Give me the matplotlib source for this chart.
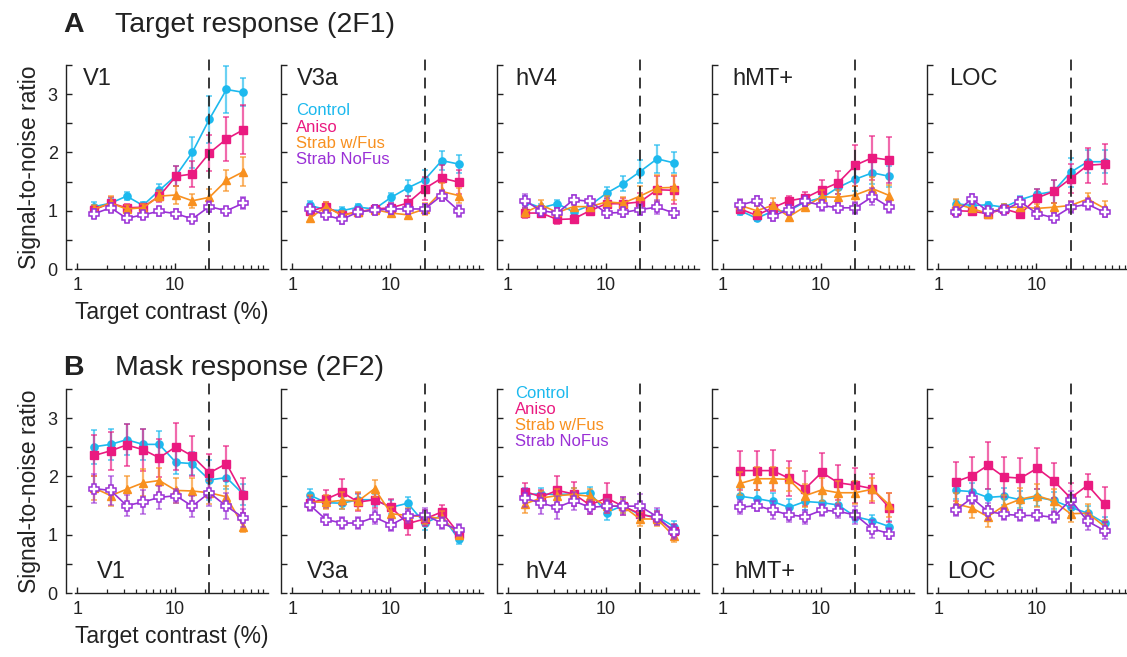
import matplotlib
matplotlib.use("Agg")
import matplotlib.pyplot as plt
from matplotlib.colors import to_rgba
from matplotlib.ticker import FixedLocator, FixedFormatter, LogLocator, NullFormatter

plt.rcParams['font.family'] = ['Liberation Sans', 'DejaVu Sans']

# target contrast levels (%) and mask contrast (dashed line)
contrast = [1.5, 2.2, 3.2, 4.7, 6.9, 10.2, 15, 22.4, 33.5, 50]
mask_contrast = 22.4

areas = ["V1", "V3a", "hV4", "hMT+", "LOC"]
groups = ["Control", "Aniso", "Strab w/Fus", "Strab NoFus"]
colors = ["#1CB9EE", "#EA1A80", "#F8901F", "#9A30D6"]

# ---- A: target response (2F1), rows = Control, Aniso, Strab w/Fus, Strab NoFus
t_mean_v1 = [[1.07, 1.13, 1.25, 1.09, 1.35, 1.60, 2.00, 2.57, 3.08, 3.03],
             [1.02, 1.13, 1.05, 1.06, 1.25, 1.59, 1.63, 1.99, 2.23, 2.39],
             [1.03, 1.13, 1.03, 1.05, 1.25, 1.27, 1.17, 1.23, 1.52, 1.67],
             [0.95, 1.05, 0.87, 0.93, 0.99, 0.95, 0.86, 1.07, 1.00, 1.13]]
t_err_v1 = [[0.08, 0.08, 0.07, 0.06, 0.10, 0.17, 0.27, 0.40, 0.40, 0.24],
            [0.06, 0.10, 0.06, 0.06, 0.10, 0.17, 0.23, 0.31, 0.37, 0.42],
            [0.06, 0.13, 0.06, 0.06, 0.08, 0.15, 0.12, 0.15, 0.18, 0.25],
            [0.08, 0.08, 0.07, 0.07, 0.08, 0.08, 0.06, 0.09, 0.07, 0.10]]

t_mean_v3a = [[1.09, 1.02, 1.00, 1.06, 1.03, 1.23, 1.39, 1.53, 1.86, 1.80],
              [0.99, 1.07, 0.93, 0.98, 1.03, 1.05, 1.13, 1.38, 1.56, 1.49],
              [0.87, 1.07, 0.92, 0.98, 1.02, 0.96, 0.93, 1.03, 1.33, 1.26],
              [1.03, 0.92, 0.85, 0.98, 1.01, 1.03, 1.03, 1.03, 1.26, 1.00]]
t_err_v3a = [[0.07, 0.07, 0.06, 0.06, 0.06, 0.08, 0.14, 0.17, 0.17, 0.15],
             [0.07, 0.08, 0.07, 0.07, 0.07, 0.08, 0.13, 0.20, 0.22, 0.20],
             [0.07, 0.08, 0.07, 0.06, 0.07, 0.07, 0.08, 0.10, 0.15, 0.13],
             [0.07, 0.07, 0.08, 0.07, 0.08, 0.08, 0.08, 0.09, 0.10, 0.10]]

t_mean_hv4 = [[1.15, 1.05, 1.12, 0.98, 1.09, 1.30, 1.46, 1.67, 1.89, 1.82],
              [0.96, 0.96, 0.85, 0.86, 1.00, 1.12, 1.12, 1.15, 1.36, 1.35],
              [0.97, 1.10, 0.97, 1.07, 1.07, 1.15, 1.13, 1.25, 1.39, 1.40],
              [1.17, 1.00, 0.96, 1.19, 1.16, 0.96, 0.97, 1.02, 1.06, 0.96]]
t_err_hv4 = [[0.10, 0.06, 0.06, 0.06, 0.07, 0.10, 0.13, 0.20, 0.24, 0.18],
             [0.08, 0.07, 0.07, 0.07, 0.08, 0.10, 0.10, 0.15, 0.24, 0.24],
             [0.08, 0.08, 0.07, 0.07, 0.08, 0.10, 0.10, 0.17, 0.22, 0.22],
             [0.12, 0.07, 0.08, 0.08, 0.08, 0.08, 0.07, 0.10, 0.12, 0.08]]

t_mean_hmt = [[1.00, 0.87, 0.99, 1.00, 1.15, 1.22, 1.40, 1.54, 1.65, 1.59],
              [1.03, 0.92, 1.05, 1.17, 1.22, 1.36, 1.48, 1.78, 1.91, 1.87],
              [1.09, 1.00, 1.09, 0.90, 1.07, 1.24, 1.23, 1.27, 1.38, 1.26],
              [1.10, 1.17, 0.91, 1.02, 1.16, 1.09, 1.05, 1.05, 1.24, 1.06]]
t_err_hmt = [[0.07, 0.05, 0.06, 0.06, 0.07, 0.08, 0.12, 0.20, 0.20, 0.18],
             [0.07, 0.06, 0.08, 0.08, 0.10, 0.17, 0.20, 0.35, 0.38, 0.40],
             [0.10, 0.08, 0.12, 0.08, 0.08, 0.12, 0.12, 0.15, 0.20, 0.18],
             [0.10, 0.08, 0.08, 0.08, 0.08, 0.10, 0.08, 0.10, 0.15, 0.10]]

t_mean_loc = [[1.12, 1.09, 1.10, 1.06, 1.19, 1.28, 1.33, 1.66, 1.84, 1.84],
              [1.00, 0.99, 0.95, 1.03, 0.95, 1.22, 1.33, 1.55, 1.78, 1.80],
              [1.12, 1.04, 0.95, 1.06, 1.06, 1.04, 1.06, 1.09, 1.20, 1.04],
              [0.98, 1.20, 0.99, 1.01, 1.15, 0.95, 0.88, 1.06, 1.11, 0.97]]
t_err_loc = [[0.06, 0.06, 0.05, 0.05, 0.07, 0.10, 0.20, 0.25, 0.20, 0.20],
             [0.06, 0.06, 0.06, 0.06, 0.08, 0.15, 0.20, 0.25, 0.30, 0.34],
             [0.08, 0.07, 0.07, 0.06, 0.07, 0.07, 0.08, 0.08, 0.10, 0.12],
             [0.07, 0.09, 0.07, 0.07, 0.09, 0.09, 0.08, 0.10, 0.10, 0.08]]

# ---- B: mask response (2F2)
m_mean_v1 = [[2.51, 2.55, 2.63, 2.55, 2.55, 2.24, 2.22, 1.94, 1.98, 1.69],
             [2.36, 2.44, 2.54, 2.46, 2.32, 2.51, 2.35, 2.06, 2.22, 1.68],
             [1.80, 1.67, 1.78, 1.89, 1.93, 1.76, 1.75, 1.72, 1.65, 1.14],
             [1.79, 1.76, 1.50, 1.56, 1.64, 1.67, 1.49, 1.72, 1.49, 1.29]]
m_err_v1 = [[0.29, 0.27, 0.27, 0.27, 0.23, 0.20, 0.20, 0.35, 0.20, 0.18],
            [0.35, 0.33, 0.36, 0.36, 0.33, 0.40, 0.35, 0.33, 0.30, 0.30],
            [0.20, 0.17, 0.23, 0.23, 0.22, 0.22, 0.22, 0.20, 0.18, 0.10],
            [0.25, 0.25, 0.18, 0.20, 0.20, 0.12, 0.18, 0.22, 0.22, 0.15]]

m_mean_v3a = [[1.68, 1.55, 1.54, 1.60, 1.60, 1.47, 1.54, 1.20, 1.33, 0.92],
              [1.55, 1.61, 1.73, 1.56, 1.60, 1.47, 1.19, 1.27, 1.39, 1.02],
              [1.56, 1.56, 1.59, 1.58, 1.79, 1.36, 1.33, 1.31, 1.28, 1.00],
              [1.51, 1.26, 1.20, 1.20, 1.30, 1.17, 1.32, 1.34, 1.20, 1.08]]
m_err_v3a = [[0.10, 0.10, 0.10, 0.10, 0.10, 0.12, 0.10, 0.12, 0.10, 0.08],
             [0.12, 0.15, 0.22, 0.15, 0.15, 0.15, 0.20, 0.12, 0.12, 0.10],
             [0.12, 0.12, 0.15, 0.15, 0.15, 0.12, 0.12, 0.12, 0.12, 0.08],
             [0.10, 0.10, 0.10, 0.10, 0.12, 0.10, 0.12, 0.12, 0.10, 0.10]]

m_mean_hv4 = [[1.69, 1.70, 1.69, 1.70, 1.72, 1.38, 1.50, 1.34, 1.31, 1.14],
              [1.74, 1.65, 1.76, 1.70, 1.51, 1.63, 1.49, 1.36, 1.28, 1.07],
              [1.53, 1.63, 1.67, 1.69, 1.66, 1.49, 1.49, 1.27, 1.27, 0.97],
              [1.63, 1.54, 1.47, 1.58, 1.47, 1.49, 1.49, 1.49, 1.31, 1.04]]
m_err_hv4 = [[0.12, 0.10, 0.10, 0.10, 0.10, 0.12, 0.12, 0.12, 0.12, 0.10],
             [0.15, 0.12, 0.25, 0.20, 0.15, 0.25, 0.15, 0.12, 0.12, 0.12],
             [0.15, 0.12, 0.12, 0.12, 0.12, 0.12, 0.12, 0.12, 0.12, 0.10],
             [0.15, 0.18, 0.20, 0.15, 0.12, 0.12, 0.15, 0.20, 0.15, 0.12]]

m_mean_hmt = [[1.66, 1.62, 1.57, 1.47, 1.57, 1.55, 1.51, 1.31, 1.24, 1.14],
              [2.10, 2.10, 2.10, 1.97, 1.79, 2.07, 1.89, 1.85, 1.79, 1.46],
              [1.88, 1.96, 1.96, 1.95, 1.67, 1.77, 1.72, 1.72, 1.78, 1.51],
              [1.47, 1.50, 1.42, 1.34, 1.31, 1.42, 1.40, 1.34, 1.10, 1.02]]
m_err_hmt = [[0.15, 0.15, 0.15, 0.15, 0.15, 0.15, 0.15, 0.10, 0.10, 0.10],
             [0.33, 0.33, 0.35, 0.30, 0.30, 0.33, 0.30, 0.30, 0.25, 0.25],
             [0.20, 0.20, 0.20, 0.20, 0.20, 0.20, 0.20, 0.20, 0.20, 0.20],
             [0.12, 0.10, 0.15, 0.12, 0.12, 0.10, 0.12, 0.15, 0.15, 0.10]]

m_mean_loc = [[1.76, 1.74, 1.64, 1.66, 1.60, 1.64, 1.59, 1.47, 1.37, 1.20],
              [1.91, 2.01, 2.19, 1.99, 1.97, 2.14, 1.93, 1.63, 1.85, 1.52],
              [1.53, 1.46, 1.31, 1.50, 1.61, 1.67, 1.58, 1.36, 1.37, 1.14],
              [1.42, 1.63, 1.40, 1.35, 1.33, 1.33, 1.30, 1.60, 1.23, 1.07]]
m_err_loc = [[0.15, 0.15, 0.15, 0.15, 0.15, 0.15, 0.15, 0.15, 0.12, 0.10],
             [0.33, 0.32, 0.40, 0.35, 0.35, 0.35, 0.30, 0.25, 0.20, 0.30],
             [0.18, 0.18, 0.18, 0.18, 0.20, 0.20, 0.20, 0.15, 0.15, 0.12],
             [0.10, 0.10, 0.15, 0.10, 0.10, 0.10, 0.10, 0.15, 0.15, 0.15]]

target_means = [t_mean_v1, t_mean_v3a, t_mean_hv4, t_mean_hmt, t_mean_loc]
target_errs = [t_err_v1, t_err_v3a, t_err_hv4, t_err_hmt, t_err_loc]
mask_means = [m_mean_v1, m_mean_v3a, m_mean_hv4, m_mean_hmt, m_mean_loc]
mask_errs = [m_err_v1, m_err_v3a, m_err_hv4, m_err_hmt, m_err_loc]

# marker style for each group
markers = [dict(marker='o', ms=5.2),
           dict(marker='s', ms=5.8),
           dict(marker='^', ms=6),
           dict(marker='P', ms=7, mfc='white', mew=1.1)]

W, H = 1127, 657
fig = plt.figure(figsize=(W / 100, H / 100), dpi=100)

ink = '#222222'


def make_axes(row_zero_px, i):
    left = 75 + i * 215.3
    ax = fig.add_axes([left / W, 1 - row_zero_px / H, 193 / W, 204 / H])
    ax.set_xscale('log')
    ax.set_xlim(0.95, 89)
    ax.set_ylim(0, 3.5)
    for s in ['top', 'right']:
        ax.spines[s].set_visible(False)
    ax.spines['left'].set_position(('outward', 6.5))
    for s in ['left', 'bottom']:
        ax.spines[s].set_linewidth(1.0)
        ax.spines[s].set_color(ink)
    ax.xaxis.set_major_locator(FixedLocator([1, 10]))
    ax.xaxis.set_major_formatter(FixedFormatter(['1', '10']))
    ax.xaxis.set_minor_locator(LogLocator(base=10, subs=range(2, 10)))
    ax.xaxis.set_minor_formatter(NullFormatter())
    ax.yaxis.set_major_locator(FixedLocator([0, 0.5, 1, 1.5, 2, 2.5, 3, 3.5]))
    ax.yaxis.set_major_formatter(FixedFormatter(['0', '', '1', '', '2', '', '3', '']))
    ax.tick_params(which='major', direction='in', length=4, width=1, colors=ink,
                   labelsize=13, pad=6)
    ax.tick_params(which='minor', direction='in', length=3, width=0.9, colors=ink)
    if i > 0:
        ax.tick_params(axis='y', labelleft=False)
    return ax


def draw_panel(ax, means, errs):
    for k in range(len(groups)):
        c = colors[k]
        st = dict(markers[k])
        st.setdefault('mfc', c)
        ax.errorbar(contrast, means[k], yerr=errs[k], color=c, lw=1.2,
                    mec=c, ecolor=to_rgba(c, 0.65), elinewidth=1.6,
                    capsize=2, capthick=1.3, zorder=3 + k, **st)
    ax.plot([mask_contrast, mask_contrast], [0, 3.65], color='#2a2a2a', lw=1.3,
            dashes=(6, 4), clip_on=False, zorder=10)


def draw_legend(ax, x, y0, dy):
    for k, g in enumerate(groups):
        ax.text(x, y0 - k * dy, g, color=colors[k], fontsize=12,
                transform=ax.transAxes, va='center', ha='left')


top_label_x = [0.04, 0.036, 0.05, 0.057, 0.067]
bot_label_x = [0.114, 0.088, 0.10, 0.07, 0.057]

for i, area in enumerate(areas):
    ax = make_axes(269, i)
    draw_panel(ax, target_means[i], target_errs[i])
    ax.text(top_label_x[i], 0.985, area, transform=ax.transAxes, fontsize=17,
            color=ink, va='top', ha='left')
    if i == 0:
        ax.set_ylabel('Signal-to-noise ratio', fontsize=16.5, color=ink, labelpad=5)
        ax.set_xlabel('Target contrast (%)', fontsize=16.5, color=ink, labelpad=5)
    if i == 1:
        draw_legend(ax, 0.03, 0.775, 0.08)

for i, area in enumerate(areas):
    ax = make_axes(593, i)
    draw_panel(ax, mask_means[i], mask_errs[i])
    ax.text(bot_label_x[i], 0.074, area, transform=ax.transAxes, fontsize=17,
            color=ink, va='baseline', ha='left')
    if i == 0:
        ax.set_ylabel('Signal-to-noise ratio', fontsize=16.5, color=ink, labelpad=5)
        ax.set_xlabel('Target contrast (%)', fontsize=16.5, color=ink, labelpad=5)
    if i == 2:
        draw_legend(ax, 0.05, 0.98, 0.079)

fig.text(63 / W, 1 - 32 / H, 'A', fontsize=20.5, fontweight='bold', color=ink, va='baseline')
fig.text(115 / W, 1 - 32 / H, 'Target response (2F1)', fontsize=20.5, color=ink, va='baseline')
fig.text(63 / W, 1 - 375 / H, 'B', fontsize=20.5, fontweight='bold', color=ink, va='baseline')
fig.text(115 / W, 1 - 375 / H, 'Mask response (2F2)', fontsize=20.5, color=ink, va='baseline')

fig.savefig('out.png', dpi=100)
